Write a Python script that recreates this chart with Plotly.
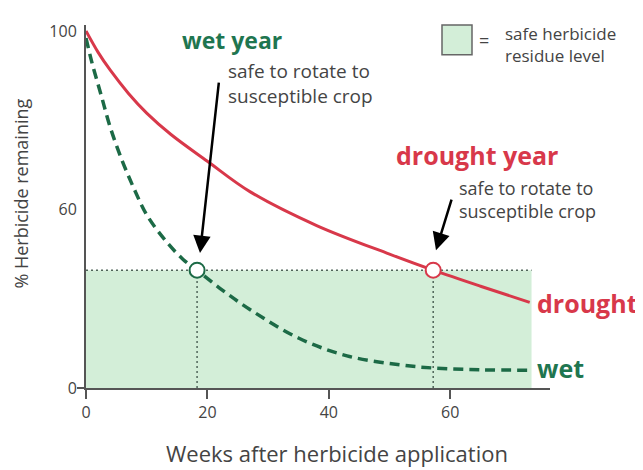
import plotly.graph_objects as go

# ---------------- data ----------------
weeks_drought = [0, 2, 4, 7, 10, 14, 20, 27, 38, 50, 57.2, 65, 73.1]
pct_drought = [100, 94, 89, 82.5, 77, 71, 63.5, 55, 45.5, 37.5, 33, 28.5, 24]

weeks_wet = [0, 1, 2.5, 4, 6, 8, 10, 13, 16, 18.3, 22, 27, 35, 43, 51.7, 57.2, 65, 73.1]
pct_wet = [98, 91, 82, 73, 63.5, 55.5, 48.5, 41.5, 36, 33, 28, 22, 14, 9, 6.5, 5.6, 5.1, 5.0]

safe_level = 33
safe_week_wet = 18.3
safe_week_drought = 57.2
shade_end_week = 73.4

x_tick_vals = [0, 20, 40, 60]
x_tick_text = ["0", "20", "40", "60"]
y_tick_vals = [0, 50, 100]
y_tick_text = ["0", "60", "100"]

# ---------------- styling ----------------
OFF = 8  # page body margin
W, H = 643 - OFF, 470 - OFF
ML, MR, MT, MB = 78, 93, 14, 82
PW, PH = W - ML - MR, H - MT - MB
RED = "#d8384a"
GREEN = "#1c6a46"
GREEN_TXT = "#1f7650"
SHADE = "#d3eed8"
DOT = "#4f6459"
AX = "#555555"
TXT = "#444444"
FONT = "Open Sans"


def px(x):
    return (x - OFF - ML) / PW


def py(y):
    return (H - MB - (y - OFF)) / PH


fig = go.Figure()

# safe residue zone
fig.add_shape(type="rect", xref="x", yref="y", x0=0, x1=shade_end_week, y0=0, y1=safe_level,
              fillcolor=SHADE, line=dict(width=0), layer="below")

# dotted guide lines
fig.add_trace(go.Scatter(x=[0, shade_end_week], y=[safe_level, safe_level], mode="lines",
                         line=dict(color=DOT, width=1.5, dash="2px,3px"), hoverinfo="skip"))
for wk in (safe_week_wet, safe_week_drought):
    fig.add_trace(go.Scatter(x=[wk, wk], y=[0, safe_level], mode="lines",
                             line=dict(color=DOT, width=1.5, dash="2px,3px"), hoverinfo="skip"))

# curves
fig.add_trace(go.Scatter(x=weeks_drought, y=pct_drought, mode="lines",
                         line=dict(color=RED, width=3, shape="spline", smoothing=1.0), name="drought"))
fig.add_trace(go.Scatter(x=weeks_wet, y=pct_wet, mode="lines",
                         line=dict(color=GREEN, width=3.5, dash="10px,6px", shape="spline", smoothing=1.0),
                         name="wet"))

# safe points
fig.add_trace(go.Scatter(x=[safe_week_wet], y=[safe_level], mode="markers",
                         marker=dict(size=15, color="white", line=dict(color=GREEN, width=2))))
fig.add_trace(go.Scatter(x=[safe_week_drought], y=[safe_level], mode="markers",
                         marker=dict(size=15, color="white", line=dict(color=RED, width=2))))

# y tick at 0 only
fig.add_shape(type="line", xref="paper", yref="paper", x0=-9 / PW, x1=0, y0=0, y1=0,
              line=dict(color=AX, width=2))

ann = []


def text(t, x, y, size, color, xanchor="left", bold=False, angle=0):
    ann.append(dict(text=f"<b>{t}</b>" if bold else t, x=px(x), y=py(y), xanchor=xanchor,
                    yanchor="middle", align="left", textangle=angle, font=dict(size=size, color=color)))


text("wet year", 180, 37, 23, GREEN_TXT, bold=True)
text("safe to rotate to<br>susceptible crop", 226, 81, 19, TXT)
text("drought year", 394, 153, 25, RED, bold=True)
text("safe to rotate to<br>susceptible crop", 457, 198, 18, TXT)
text("drought", 535, 302, 25, RED, bold=True)
text("wet", 535, 368, 25, GREEN_TXT, bold=True)
text("=", 484, 37, 18, TXT, xanchor="center")
text("safe herbicide<br>residue level", 503, 42, 17, TXT)
text("Weeks after herbicide application", 337, 454, 22, TXT, xanchor="center")
text("% Herbicide remaining", 21, 192, 18, TXT, xanchor="center", angle=-90)

# arrows
ann.append(dict(text="", x=px(200), y=py(252), ax=19, ay=-172, showarrow=True, arrowhead=2,
                arrowsize=1.4, arrowwidth=2.5, arrowcolor="black"))
ann.append(dict(text="", x=px(436), y=py(249), ax=16, ay=-52, showarrow=True, arrowhead=2,
                arrowsize=1.4, arrowwidth=2.5, arrowcolor="black"))
for a in ann:
    a.setdefault("showarrow", False)
    a["xref"] = "paper"
    a["yref"] = "paper"
fig.update_layout(annotations=ann)

# legend swatch
fig.add_shape(type="rect", xref="paper", yref="paper", x0=px(442), x1=px(472), y0=py(52), y1=py(22),
              fillcolor=SHADE, line=dict(color="#666666", width=1.5))

fig.update_layout(
    width=W, height=H, margin=dict(l=ML, r=MR, t=MT, b=MB),
    paper_bgcolor="white", plot_bgcolor="white", showlegend=False,
    font=dict(family=FONT, color=TXT),
    xaxis=dict(range=[0, PW / 6.07], tickvals=x_tick_vals, ticktext=x_tick_text, ticks="outside",
               ticklen=9, tickwidth=1.5, tickcolor=AX, showline=True, linecolor=AX, linewidth=2,
               showgrid=False, zeroline=False, tickfont=dict(size=16, color=TXT)),
    yaxis=dict(range=[0, PH / 3.6], tickvals=y_tick_vals, ticktext=y_tick_text, ticks="",
               ticklabelstandoff=4, showline=True, linecolor=AX, linewidth=2,
               showgrid=False, zeroline=False, tickfont=dict(size=16, color=TXT)),
)

fig.write_html("out.html")
